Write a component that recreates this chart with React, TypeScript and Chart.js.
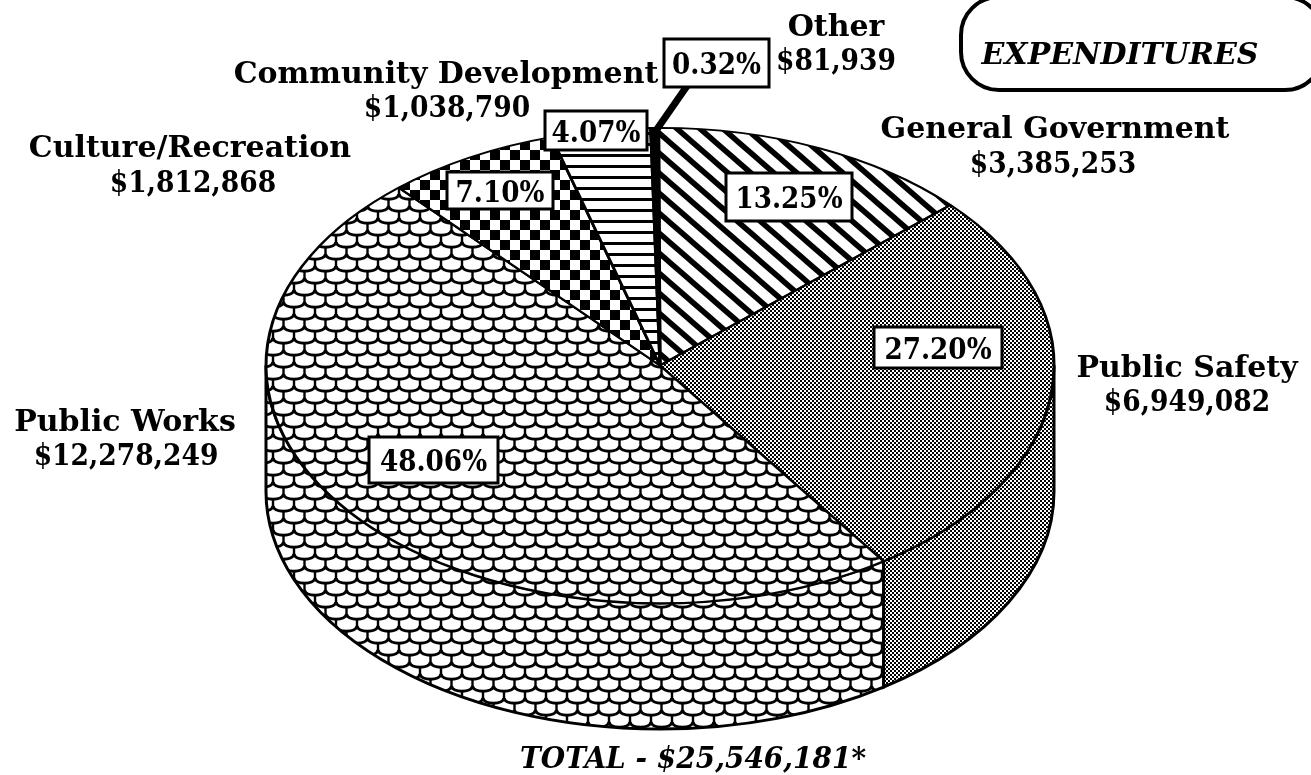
import React, { useEffect, useRef } from "react";
import { Chart, registerables } from "chart.js";

Chart.register(...registerables);

const categories = ["General Government", "Public Safety", "Public Works", "Culture/Recreation", "Community Development", "Other"];
const amounts = [3385253, 6949082, 12278249, 1812868, 1038790, 81939];
const amountLabels = ["$3,385,253", "$6,949,082", "$12,278,249", "$1,812,868", "$1,038,790", "$81,939"];
const percentLabels = ["13.25%", "27.20%", "48.06%", "7.10%", "4.07%", "0.32%"];
const totalLabel = "TOTAL - $25,546,181*";
const titleLabel = "EXPENDITURES";

const W = 1311, H = 775;
const RADIUS = 394;
const SQUASH = 0.603;
const DEPTH = 126;
const SERIF = '"DejaVu Serif", serif';

// [name centre x, amount centre x, name baseline, amount baseline]
const labelPos = [
  [1055, 1053, 138, 173],
  [1187, 1187, 377, 411],
  [125, 126, 431, 465],
  [190, 193, 157, 192],
  [446, 447, 83, 117],
  [836, 836, 36, 70],
];
// [left, top, right, bottom]
const boxPos = [
  [726, 173, 852, 221],
  [874, 327, 1002, 368],
  [369, 437, 498, 483],
  [447, 172, 553, 209],
  [545, 111, 647, 150],
  [664, 39, 769, 87],
];

function tile(w: number, h: number, draw: (c: CanvasRenderingContext2D) => void) {
  const cv = document.createElement("canvas");
  cv.width = w; cv.height = h;
  const c = cv.getContext("2d")!;
  c.fillStyle = "#fff";
  c.fillRect(0, 0, w, h);
  c.fillStyle = "#000";
  c.strokeStyle = "#000";
  draw(c);
  return cv;
}

function makeTiles() {
  const stripes = tile(23, 20, (c) => {
    c.lineWidth = 5.5;
    for (let i = -1; i <= 1; i++) {
      c.beginPath();
      c.moveTo(i * 23 - 4, -4 * 20 / 23);
      c.lineTo(i * 23 + 27, 20 + 4 * 20 / 23);
      c.stroke();
    }
  });
  const dots = tile(4, 4, (c) => {
    c.fillRect(0, 0, 2, 2);
    c.fillRect(2, 2, 2, 2);
  });
  const scales = tile(21, 24, (c) => {
    const u = (x: number, y: number) => {
      c.lineWidth = 3;
      c.beginPath();
      c.moveTo(x, y);
      c.bezierCurveTo(x + 1, y + 7, x + 20, y + 7, x + 21, y);
      c.stroke();
      c.lineWidth = 2.4;
      c.beginPath();
      c.moveTo(x + 10.5, y + 5);
      c.lineTo(x + 10.5, y + 12);
      c.stroke();
    };
    for (let row = 3; row >= -3; row--) {
      const off = Math.abs(row) % 2 === 0 ? 0 : 10.5;
      for (let k = -1; k < 2; k++) u(k * 21 + off, row * 12 + 2);
    }
  });
  const checks = tile(20, 20, (c) => {
    c.fillRect(0, 0, 10, 10);
    c.fillRect(10, 10, 10, 10);
  });
  const lines = tile(4, 11, (c) => {
    c.fillRect(0, 0, 4, 3);
  });
  return [stripes, dots, scales, checks, lines];
}

export default function App() {
  const ref = useRef<HTMLCanvasElement>(null);
  useEffect(() => {
    const ctx = ref.current!.getContext("2d")!;
    const tiles = makeTiles();
    const slicePatterns = tiles.map((t) => ctx.createPattern(t, "repeat")!);
    const wallPatterns = tiles.map((t) => ctx.createPattern(t, "repeat")!);

    const pieView = {
      id: "pieView",
      beforeDatasetsDraw(chart: any) {
        const c = chart.ctx as CanvasRenderingContext2D;
        const arcs = chart.getDatasetMeta(0).data;
        const cx = arcs[0].x, cy = arcs[0].y, r = arcs[0].outerRadius;
        const ry = r * SQUASH;
        const m = new DOMMatrix().translate(cx, cy).scale(1, 1 / SQUASH).translate(-cx, -cy);
        slicePatterns.forEach((p) => p.setTransform(m));
        c.save();
        c.lineWidth = 3;
        c.strokeStyle = "#000";
        arcs.forEach((a: any, i: number) => {
          if (!wallPatterns[i]) return;
          const tau = Math.PI * 2;
          let s = a.startAngle, e = a.endAngle;
          if (e < 0) { s += tau; e += tau; }
          const a0 = Math.max(0, s), a1 = Math.min(Math.PI, e);
          if (a1 <= a0) return;
          c.beginPath();
          c.ellipse(cx, cy, r, ry, 0, a0, a1);
          c.ellipse(cx, cy + DEPTH, r, ry, 0, a1, a0, true);
          c.closePath();
          c.fillStyle = wallPatterns[i];
          c.fill();
          c.stroke();
        });
        c.restore();
        c.save();
        c.translate(cx, cy);
        c.scale(1, SQUASH);
        c.translate(-cx, -cy);
      },
      afterDatasetsDraw(chart: any) {
        const c = chart.ctx as CanvasRenderingContext2D;
        c.restore();
        c.save();
        // leader for the smallest slice
        c.strokeStyle = "#000";
        c.lineWidth = 7;
        c.beginPath();
        c.moveTo(687, 86);
        c.lineTo(655, 132);
        c.stroke();
        // percent boxes
        c.textAlign = "center";
        c.textBaseline = "alphabetic";
        percentLabels.forEach((t, i) => {
          const [l, tp, rt, b] = boxPos[i];
          c.fillStyle = "#fff";
          c.fillRect(l, tp, rt - l, b - tp);
          c.lineWidth = 3;
          c.strokeRect(l, tp, rt - l, b - tp);
          c.fillStyle = "#000";
          c.font = `bold 30px ${SERIF}`;
          c.fillText(t, (l + rt) / 2, (tp + b) / 2 + 11, c.measureText(t).width * 0.875);
        });
        // category names and amounts
        categories.forEach((t, i) => {
          const [x1, x2, y1, y2] = labelPos[i];
          c.font = `bold 30px ${SERIF}`;
          c.fillText(t, x1, y1);
          const w = c.measureText(amountLabels[i]).width;
          c.fillText(amountLabels[i], x2, y2, w * 0.885);
        });
        c.font = `italic bold 30px ${SERIF}`;
        c.fillText(totalLabel, 693, 768, 346);
        // title box
        c.lineWidth = 4;
        c.beginPath();
        c.roundRect(961, -3, 362, 93, 38);
        c.stroke();
        c.fillText(titleLabel, 1120, 64, 285);
        c.restore();
      },
    };

    const chart = new Chart(ref.current!, {
      type: "pie",
      data: {
        labels: categories,
        datasets: [{
          data: amounts,
          backgroundColor: [...slicePatterns, "#000"],
          borderColor: "#000",
          borderWidth: 3,
          radius: RADIUS,
        } as any],
      },
      options: {
        responsive: false,
        animation: false,
        rotation: -0.2,
        events: [],
        layout: { padding: { left: 9, right: 0, top: 0, bottom: 44 } },
        plugins: { legend: { display: false }, tooltip: { enabled: false }, title: { display: false } },
      },
      plugins: [pieView],
    } as any);
    return () => chart.destroy();
  }, []);
  return (
    <canvas
      ref={ref}
      width={W}
      height={H}
      style={{ position: "absolute", left: 0, top: 0, width: W, height: H, background: "#fff" }}
    />
  );
}
